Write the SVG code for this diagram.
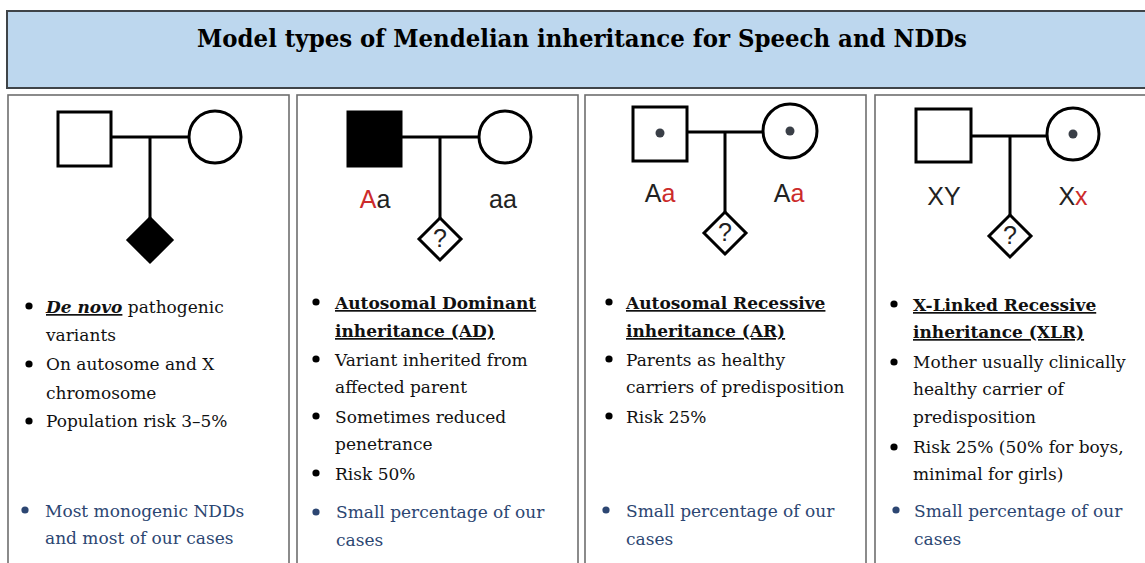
<svg xmlns="http://www.w3.org/2000/svg" width="1145" height="563" viewBox="0 0 1145 563">
<style>
.panel{fill:#fff;stroke:#6e6e6e;stroke-width:1.6}
.sym{fill:#fff;stroke:#000;stroke-width:3}
.fill{fill:#000;stroke:#000;stroke-width:3}
.ln{stroke:#000;stroke-width:3;fill:none}
.dot{fill:#3a3f47}
.g{font-family:"Liberation Sans",Arial,sans-serif;font-size:25px;fill:#222;text-anchor:middle}
.r{fill:#cc2b2b}
.q{font-family:"Liberation Sans",Arial,sans-serif;font-size:25px;fill:#222;text-anchor:middle}
.t{font-family:"DejaVu Serif","Liberation Serif",serif;font-size:17px;fill:#111}
.h{font-weight:bold;text-decoration:underline}
.b{fill:#2c4672}
.bk{fill:#000}
.bb{fill:#2c4672}
</style>
<rect x="-1" y="0" width="1147" height="563" fill="#fff"/>
<g id="title">
<rect x="7" y="11" width="1145" height="77" fill="#bdd7ee" stroke="#3f4448" stroke-width="2"/>
<text x="582" y="47" text-anchor="middle" font-family="DejaVu Serif,'Liberation Serif',serif" font-weight="bold" font-size="24" fill="#000" textLength="770" lengthAdjust="spacingAndGlyphs">Model types of Mendelian inheritance for Speech and NDDs</text>
</g>
<g id="panel-denovo">
<rect class="panel" x="8" y="95" width="281" height="480"/>
<rect class="sym" x="58" y="112" width="53" height="54"/>
<circle class="sym" cx="215" cy="137" r="26"/>
<path class="ln" d="M111 137H189M150 137V220"/>
<path class="fill" d="M150 218L172 240L150 262L128 240Z"/>
<circle class="bk" cx="29" cy="306" r="3.6"/>
<text class="t" x="46" y="313"><tspan font-weight="bold" font-style="italic" text-decoration="underline">De novo</tspan> pathogenic</text>
<text class="t" x="46" y="341">variants</text>
<circle class="bk" cx="29" cy="364" r="3.6"/>
<text class="t" x="46" y="370">On autosome and X</text>
<text class="t" x="46" y="399">chromosome</text>
<circle class="bk" cx="29" cy="421" r="3.6"/>
<text class="t" x="46" y="427">Population risk 3–5%</text>
<circle class="bb" cx="25" cy="510" r="3.6"/>
<text class="t b" x="45" y="517">Most monogenic NDDs</text>
<text class="t b" x="45" y="544">and most of our cases</text>
</g>
<g id="panel-ad">
<rect class="panel" x="297" y="95" width="281" height="480"/>
<rect class="fill" x="348" y="112" width="53" height="54"/>
<circle class="sym" cx="505" cy="137" r="26"/>
<path class="ln" d="M401 137H479M440 137V218"/>
<path class="sym" d="M440 218L461 239L440 260L419 239Z"/>
<text class="q" x="440" y="247">?</text>
<text class="g" x="375" y="208"><tspan class="r">A</tspan>a</text>
<text class="g" x="503" y="208">aa</text>
<circle class="bk" cx="316" cy="302" r="3.6"/>
<text class="t h" x="335" y="309">Autosomal Dominant</text>
<text class="t h" x="335" y="337">inheritance (AD)</text>
<circle class="bk" cx="316" cy="359" r="3.6"/>
<text class="t" x="335" y="366">Variant inherited from</text>
<text class="t" x="335" y="393">affected parent</text>
<circle class="bk" cx="316" cy="416" r="3.6"/>
<text class="t" x="335" y="423">Sometimes reduced</text>
<text class="t" x="335" y="450">penetrance</text>
<circle class="bk" cx="316" cy="473" r="3.6"/>
<text class="t" x="335" y="480">Risk 50%</text>
<circle class="bb" cx="316" cy="512" r="3.6"/>
<text class="t b" x="336" y="518">Small percentage of our</text>
<text class="t b" x="336" y="546">cases</text>
</g>
<g id="panel-ar">
<rect class="panel" x="585" y="95" width="281" height="480"/>
<rect class="sym" x="633" y="107" width="54" height="54"/>
<circle class="dot" cx="660" cy="133" r="4.5"/>
<circle class="sym" cx="790" cy="131" r="27"/>
<circle class="dot" cx="790" cy="131" r="4.5"/>
<path class="ln" d="M687 132H763M725 132V213"/>
<path class="sym" d="M725 212L746 233L725 254L704 233Z"/>
<text class="q" x="725" y="241">?</text>
<text class="g" x="660" y="202">A<tspan class="r">a</tspan></text>
<text class="g" x="789" y="202">A<tspan class="r">a</tspan></text>
<circle class="bk" cx="609" cy="302" r="3.6"/>
<text class="t h" x="626" y="309">Autosomal Recessive</text>
<text class="t h" x="626" y="337">inheritance (AR)</text>
<circle class="bk" cx="609" cy="359" r="3.6"/>
<text class="t" x="626" y="366">Parents as healthy</text>
<text class="t" x="626" y="393">carriers of predisposition</text>
<circle class="bk" cx="609" cy="416" r="3.6"/>
<text class="t" x="626" y="423">Risk 25%</text>
<circle class="bb" cx="606" cy="510" r="3.6"/>
<text class="t b" x="626" y="517">Small percentage of our</text>
<text class="t b" x="626" y="545">cases</text>
</g>
<g id="panel-xlr">
<rect class="panel" x="875" y="95" width="290" height="480"/>
<rect class="sym" x="916" y="109" width="55" height="53"/>
<circle class="sym" cx="1073" cy="134" r="26"/>
<circle class="dot" cx="1073" cy="134" r="4.5"/>
<path class="ln" d="M971 136H1047M1010 136V216"/>
<path class="sym" d="M1010 215L1031 236L1010 257L989 236Z"/>
<text class="q" x="1010" y="244">?</text>
<text class="g" x="944" y="205">XY</text>
<text class="g" x="1073" y="205">X<tspan class="r">x</tspan></text>
<circle class="bk" cx="894" cy="304" r="3.6"/>
<text class="t h" x="913" y="311">X-Linked Recessive</text>
<text class="t h" x="913" y="338">inheritance (XLR)</text>
<circle class="bk" cx="894" cy="362" r="3.6"/>
<text class="t" x="913" y="368">Mother usually clinically</text>
<text class="t" x="913" y="395">healthy carrier of</text>
<text class="t" x="913" y="423">predisposition</text>
<circle class="bk" cx="894" cy="447" r="3.6"/>
<text class="t" x="913" y="453">Risk 25% (50% for boys,</text>
<text class="t" x="913" y="480">minimal for girls)</text>
<circle class="bb" cx="896" cy="510" r="3.6"/>
<text class="t b" x="914" y="517">Small percentage of our</text>
<text class="t b" x="914" y="545">cases</text>
</g>
</svg>
